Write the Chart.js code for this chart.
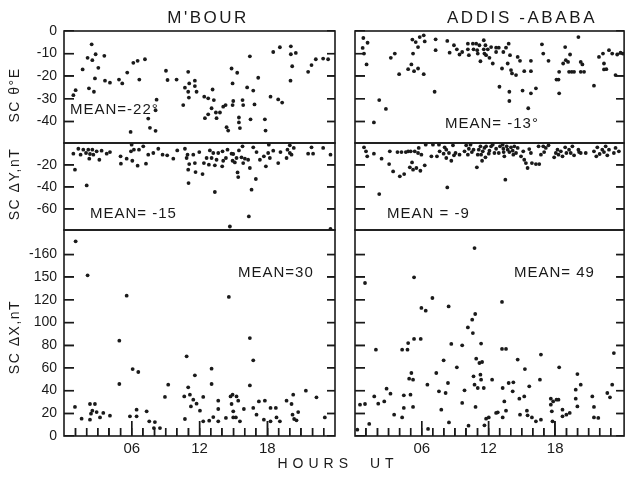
<!DOCTYPE html>
<html><head><meta charset="utf-8">
<script src="https://cdn.jsdelivr.net/npm/chart.js@4/dist/chart.umd.min.js"></script>
<style>
html,body{margin:0;padding:0;background:#fff;}
#wrap{position:relative;width:626px;height:477px;overflow:hidden;background:#fff;font-family:"Liberation Sans",Arial,sans-serif;color:#1a1a1a;}
canvas{position:absolute;left:0;top:0;}
.c{position:absolute;white-space:nowrap;line-height:1;transform:translate(-50%,-50%);}
.l{position:absolute;white-space:nowrap;line-height:1;transform:translate(0,-50%);}
.r{position:absolute;white-space:nowrap;line-height:1;transform:translate(-50%,-50%) rotate(-90deg);}
#st{display:none;}
</style></head><body><div id="wrap">
<canvas id="c1" width="626" height="477"></canvas>
<canvas id="c2" width="626" height="477"></canvas>
<canvas id="c3" width="626" height="477"></canvas>
<canvas id="c4" width="626" height="477"></canvas>
<canvas id="c5" width="626" height="477"></canvas>
<canvas id="c6" width="626" height="477"></canvas>
<div class="c" style="left:208px;top:17px;font-size:17px;letter-spacing:2.5px;">M'BOUR</div>
<div class="c" style="left:522px;top:17px;font-size:17px;letter-spacing:2.6px;">ADDIS -ABABA</div>
<div class="r" style="left:14px;top:95px;font-size:14px;letter-spacing:1.5px;">SC θ°E</div>
<div class="r" style="left:14px;top:184px;font-size:14px;letter-spacing:1.5px;">SC ΔY,nT</div>
<div class="r" style="left:14px;top:337px;font-size:14px;letter-spacing:1.5px;">SC ΔX,nT</div>
<div class="l" style="left:70px;top:108px;font-size:15px;letter-spacing:1px;">MEAN=-22°</div>
<div class="l" style="left:445px;top:122px;font-size:15px;letter-spacing:1px;">MEAN= -13°</div>
<div class="l" style="left:90px;top:212px;font-size:15px;letter-spacing:1px;">MEAN= -15</div>
<div class="l" style="left:387px;top:212px;font-size:15px;letter-spacing:1px;">MEAN = -9</div>
<div class="l" style="left:238px;top:271px;font-size:15px;letter-spacing:1px;">MEAN=30</div>
<div class="l" style="left:514px;top:271px;font-size:15px;letter-spacing:1px;">MEAN= 49</div>
<div class="c" style="left:338px;top:463px;font-size:14px;letter-spacing:5px;word-spacing:8px;">HOURS UT</div>
<div id="st"></div>
</div>
<script>
const INK = '#1a1a1a';
const FONT = '"Liberation Sans", Arial, sans-serif';

// Tick values / labels
const thetaTicks = [0, -10, -20, -30, -40];
const thetaLabels = ['0', '-10', '-20', '-30', '-40'];
const dyTicks = [-20, -40, -60];
const dyLabels = ['-20', '-40', '-60'];
const dxTicks = [0, 20, 40, 60, 80, 100, 120, 140, 160];
const dxLabels = ['0', '20', '40', '60', '80', '100', '120', '150', '-160'];
const hourTicks = [6, 12, 18];
const hourLabels = ['06', '12', '18'];
const hourMarks = [1,2,3,4,5,6,7,8,9,10,11,12,13,14,15,16,17,18,19,20,21,22,23];

// [hour UT, value]
const mbourTheta = [[0.83,-28.4],[1.03,-26.2],[1.65,-17.0],[2.09,-11.9],[2.45,-5.9],[2.51,-12.9],[2.80,-10.3],[2.74,-21.0],[2.21,-25.4],[2.65,-26.9],[3.04,-16.3],[3.57,-11.0],[3.63,-22.0],[4.07,-22.9],[4.87,-21.5],[5.16,-23.2],[5.60,-18.4],[6.14,-14.1],[6.52,-13.2],[7.17,-12.5],[6.67,-21.5],[7.46,-38.8],[8.11,-35.1],[8.2,-30.4],[7.61,-42.9],[8.11,-44.2],[5.9,-44.7],[9.03,-17.6],[9.17,-21.7],[9.97,-21.5],[11.0,-18.1],[10.56,-32.8],[10.71,-25.1],[11.0,-26.9],[11.06,-29.5],[11.09,-23.2],[11.59,-24.4],[11.59,-22.0],[11.74,-26.9],[13.16,-25.9],[12.42,-29.1],[12.77,-29.8],[13.27,-30.6],[12.48,-38.6],[12.77,-36.9],[13.07,-34.2],[13.45,-36.1],[13.51,-38.6],[13.81,-36.1],[14.1,-33.5],[14.31,-32.8],[14.4,-42.6],[14.54,-44.1],[14.93,-32.8],[14.93,-23.2],[14.99,-31.0],[14.84,-16.6],[15.34,-18.5],[15.49,-38.3],[15.49,-40.5],[15.58,-43.0],[15.81,-30.6],[15.87,-32.8],[16.22,-25.0],[16.46,-11.2],[16.52,-39.1],[16.76,-26.4],[16.87,-32.5],[17.2,-20.7],[17.79,-39.1],[17.85,-44.1],[18.29,-29.1],[18.53,-9.3],[18.97,-30.3],[19.12,-7.2],[19.32,-31.7],[20.06,-22.0],[20.09,-6.8],[20.21,-15.6],[20.09,-10.3],[20.53,-9.7],[21.62,-18.1],[21.92,-15.1],[22.3,-12.5],[22.95,-12.2],[23.39,-12.5]];

const addisTheta = [[0.75,-3.1],[1.13,-5.2],[0.69,-7.5],[0.81,-10.0],[1.04,-14.8],[1.70,-40.5],[2.18,-30.6],[2.78,-34.5],[3.22,-11.9],[3.58,-10.0],[3.97,-19.1],[4.78,-16.9],[5.16,-3.8],[5.07,-14.8],[5.22,-10.0],[5.46,-4.9],[5.67,-7.1],[5.82,-2.7],[6.18,-1.9],[6.27,-4.6],[5.67,-16.6],[5.31,-17.8],[6.18,-19.1],[7.16,-26.9],[7.25,-3.7],[7.25,-8.5],[8.3,-4.4],[8.51,-9.6],[8.9,-6.3],[9.16,-8.1],[9.4,-10.4],[9.64,-9.3],[10.15,-5.6],[10.15,-8.1],[10.24,-10.7],[10.6,-5.6],[10.66,-8.1],[10.9,-5.6],[10.99,-8.5],[11.04,-10.0],[11.19,-6.3],[11.28,-13.4],[11.58,-4.1],[11.58,-8.1],[11.64,-10.0],[11.73,-6.3],[11.79,-10.7],[11.94,-8.1],[12.09,-11.9],[12.24,-7.1],[12.39,-14.4],[12.69,-9.3],[12.69,-7.4],[12.93,-7.4],[12.99,-24.7],[13.22,-16.6],[13.34,-9.3],[13.58,-7.4],[13.82,-5.6],[13.73,-14.4],[13.94,-10.7],[14.03,-17.3],[14.12,-18.8],[13.88,-26.9],[13.88,-31.0],[14.48,-19.5],[14.63,-11.5],[14.84,-13.2],[15.07,-26.4],[15.22,-17.8],[15.58,-34.2],[15.82,-17.8],[15.82,-13.2],[15.82,-27.6],[16.27,-25.4],[16.81,-5.9],[16.93,-10.0],[17.4,-13.2],[18.12,-21.5],[18.3,-21.5],[18.36,-18.1],[18.36,-27.6],[18.72,-14.4],[18.9,-7.1],[18.96,-12.9],[19.16,-13.7],[19.25,-18.1],[19.34,-10.4],[19.49,-18.1],[19.7,-18.1],[20.09,-2.7],[20.3,-13.7],[20.3,-18.1],[20.45,-14.8],[20.6,-18.1],[21.49,-24.2],[21.94,-11.5],[22.3,-10.0],[22.39,-14.4],[22.39,-17.0],[22.6,-16.9],[22.84,-8.5],[23.13,-10.0],[23.43,-19.5],[23.58,-10.4],[23.88,-9.6],[24.09,-10.0]];

const mbourDY = [[0.83,-9.7],[0.97,-24.2],[1.27,-5.2],[1.47,-10.6],[1.71,-6.1],[1.95,-9.1],[2.01,-38.5],[2.15,-6.1],[2.24,-14.2],[2.3,-10.0],[2.51,-6.1],[2.6,-10.6],[2.89,-7.6],[3.13,-15.2],[3.33,-7.0],[3.78,-9.7],[4.07,-8.2],[5.01,-12.1],[5.04,-18.8],[5.55,-14.2],[5.93,-7.6],[5.99,-1.5],[6.05,-16.1],[6.19,-6.1],[6.52,-20.6],[6.64,-6.1],[7.02,-3.0],[7.26,-18.8],[7.46,-10.6],[7.91,-9.1],[8.35,-5.2],[8.73,-10.6],[9.14,-11.2],[9.68,-14.2],[10.03,-6.7],[10.71,-5.2],[10.86,-13.6],[10.94,-10.6],[11.0,-24.2],[11.09,-19.1],[11.03,-36.4],[11.45,-10.6],[11.59,-18.2],[11.65,-26.4],[11.98,-8.2],[12.27,-28.2],[12.39,-18.2],[12.63,-13.6],[12.83,-19.7],[12.92,-6.7],[13.07,-13.6],[13.22,-9.1],[13.36,-20.3],[13.36,-44.5],[13.51,-15.2],[13.66,-9.1],[14.01,-21.2],[14.04,-7.6],[14.1,-16.1],[14.34,-13.6],[14.48,-6.1],[14.69,-75.8],[14.84,-9.7],[14.93,-16.1],[14.99,-10.0],[15.13,-17.6],[15.28,-13.6],[15.37,-26.7],[15.43,-30.9],[15.49,-6.7],[15.72,-13.0],[15.81,-3.0],[15.87,-18.2],[16.02,-14.2],[16.31,-15.2],[16.37,-66.7],[16.46,-22.7],[16.61,-42.4],[16.76,-3.9],[16.99,-32.7],[17.05,-8.2],[17.35,-15.2],[17.7,-12.1],[17.88,-21.2],[18.08,-9.1],[18.14,-1.5],[18.23,-13.6],[18.53,-7.0],[18.97,-18.2],[19.17,-8.2],[19.71,-13.6],[19.79,-6.1],[20.0,-2.1],[20.0,-9.1],[20.15,-10.6],[20.35,-4.5],[21.62,-9.7],[21.92,-3.9],[22.06,-9.7],[22.95,-4.5],[23.6,-10.6],[23.6,-78.0]];

const addisDY = [[0.81,-3.9],[0.99,-7.6],[1.10,-12.1],[1.70,-9.7],[2.18,-46.4],[2.39,-14.2],[3.07,-19.1],[3.13,-7.6],[3.43,-25.8],[3.82,-8.2],[4.03,-30.3],[4.18,-8.2],[4.42,-28.2],[4.57,-8.2],[4.78,-7.6],[4.93,-22.1],[5.01,-7.6],[5.13,-17.6],[5.22,-24.2],[5.37,-7.6],[5.52,-22.7],[5.67,-9.1],[5.73,-4.5],[5.88,-25.2],[5.97,-10.6],[6.27,-20.3],[6.36,-1.5],[6.87,-12.1],[7.01,-1.5],[7.37,-12.1],[7.55,-1.5],[7.61,-7.6],[7.97,-9.7],[8.06,-3.9],[8.21,-6.1],[8.21,-13.6],[8.3,-40.3],[8.45,-9.1],[8.66,-16.1],[8.81,-2.1],[8.9,-11.2],[9.04,-9.1],[9.4,-10.6],[9.85,-7.6],[10.0,-2.1],[10.15,-10.6],[10.24,-5.2],[10.39,-1.5],[10.51,-8.2],[10.66,-6.1],[10.96,-22.1],[11.04,-10.6],[11.13,-6.1],[11.28,-3.0],[11.34,-10.6],[11.43,-16.1],[11.49,-7.6],[11.64,-4.5],[11.73,-13.0],[11.79,-3.0],[12.03,-9.7],[12.09,-7.0],[12.24,-3.0],[12.39,-1.5],[12.54,-9.1],[12.69,-5.2],[12.93,-9.1],[13.04,-3.0],[13.28,-1.5],[13.34,-5.2],[13.37,-8.2],[13.43,-12.1],[13.52,-33.3],[13.64,-3.0],[13.73,-6.1],[13.88,-8.2],[14.03,-3.9],[14.18,-7.0],[14.24,-10.6],[14.33,-3.0],[14.48,-9.1],[14.63,-4.5],[14.93,-12.1],[15.13,-7.6],[15.22,-15.2],[15.37,-18.2],[15.52,-22.7],[15.67,-5.5],[15.82,-9.1],[15.91,-18.2],[16.27,-19.1],[16.51,-3.0],[16.57,-19.1],[16.72,-10.6],[16.93,-3.0],[17.01,-8.2],[17.16,-4.5],[17.4,-2.1],[17.91,-13.0],[18.06,-9.1],[18.21,-6.1],[18.3,-10.6],[18.51,-7.6],[18.66,-12.1],[18.9,-3.9],[19.01,-9.1],[19.25,-6.1],[19.4,-9.1],[19.55,-3.0],[19.7,-11.2],[20.09,-6.1],[20.15,-8.2],[20.3,-9.1],[20.75,-9.1],[21.49,-7.6],[21.7,-12.1],[21.79,-3.9],[22.0,-10.0],[22.24,-6.1],[22.39,-8.2],[22.54,-3.0],[22.69,-11.2],[22.84,-6.1],[23.28,-9.1],[23.43,-4.5],[23.73,-7.6]];

const mbourDX = [[1.03,171.5],[2.09,141.6],[5.55,123.6],[4.9,84.0],[4.9,45.8],[6.08,59.0],[6.58,56.4],[10.86,70.2],[11.59,53.5],[13.07,59.3],[13.07,45.8],[14.6,122.5],[16.46,86.3],[16.76,66.7],[16.46,44.6],[9.23,45.2],[11.0,42.9],[8.94,34.4],[10.65,34.9],[11.15,36.4],[11.45,32.0],[11.74,28.5],[12.33,34.4],[11.24,26.1],[12.04,22.3],[13.66,31.1],[13.66,23.8],[14.75,34.9],[14.93,36.4],[15.28,34.9],[15.43,31.1],[14.84,28.2],[14.99,21.7],[15.93,23.8],[14.99,16.4],[15.22,16.4],[14.34,15.9],[15.58,12.9],[13.22,16.7],[13.66,12.9],[16.76,24.7],[17.05,18.8],[17.26,30.5],[17.79,31.1],[18.29,24.7],[18.76,24.7],[18.82,16.4],[19.12,12.9],[18.29,12.9],[19.71,31.1],[20.15,28.2],[20.3,36.4],[20.24,18.8],[20.38,15.0],[20.59,13.8],[20.74,21.1],[21.42,39.9],[22.36,34.1],[23.1,16.4],[0.97,25.6],[1.56,15.3],[2.3,28.2],[2.74,28.2],[2.51,22.3],[2.39,19.7],[2.3,14.4],[2.89,21.1],[3.19,16.4],[3.48,20.3],[4.07,17.9],[5.84,17.3],[6.43,23.2],[6.43,17.3],[7.32,21.7],[7.55,12.9],[8.05,12.3],[7.96,7.0],[8.5,7.0],[10.71,15.0],[12.33,12.9],[12.86,13.5],[17.7,14.4]];

const addisDX = [[0.9,134.8],[0.45,27.6],[0.9,28.2],[1.73,34.9],[1.88,76.1],[2.09,28.5],[2.63,30.5],[2.84,41.7],[3.19,37.3],[3.52,18.8],[4.24,76.1],[4.72,76.1],[4.24,16.4],[4.39,24.7],[4.39,35.8],[4.78,81.9],[4.87,50.5],[4.99,36.4],[5.07,55.5],[5.22,49.6],[5.22,25.6],[5.31,139.8],[5.31,85.5],[5.91,85.5],[5.97,112.8],[6.36,110.4],[6.96,121.6],[6.51,45.2],[7.31,55.5],[7.55,39.4],[7.76,23.2],[7.97,66.7],[8.15,37.9],[8.36,46.7],[8.42,114.2],[8.66,81.1],[9.16,60.5],[9.64,79.9],[9.64,29.1],[9.85,40.2],[10.15,95.7],[10.54,102.5],[10.6,90.7],[10.75,165.6],[10.81,107.5],[10.66,52.6],[10.75,45.2],[10.84,25.6],[10.9,68.1],[11.04,42.3],[11.19,64.3],[11.28,54.0],[11.34,81.4],[11.34,49.6],[11.43,65.2],[11.58,42.3],[12.33,49.6],[11.79,15.3],[12.03,16.4],[12.69,20.3],[12.84,20.9],[13.22,118.1],[13.22,76.7],[13.28,42.3],[13.58,76.7],[13.43,30.5],[13.58,22.3],[13.28,16.4],[13.82,46.7],[14.18,39.4],[14.24,47.3],[14.63,67.3],[14.78,32.9],[14.84,18.8],[15.28,59.0],[15.22,34.9],[15.46,22.3],[15.52,18.2],[15.67,43.8],[15.91,16.4],[16.27,12.9],[16.72,71.7],[16.63,49.6],[16.72,14.4],[17.61,32.9],[17.61,27.6],[17.7,21.7],[17.76,12.9],[17.82,30.5],[18.12,32.0],[18.36,60.5],[18.3,32.0],[18.66,17.3],[19.01,18.8],[19.31,20.3],[18.66,23.2],[19.85,40.8],[19.85,32.9],[20.0,54.6],[20.0,26.1],[20.3,45.2],[21.34,34.9],[21.49,25.6],[21.49,16.4],[21.88,15.9],[22.69,37.9],[22.93,34.1],[23.28,73.1],[23.13,45.2],[0.21,5.6],[1.28,10.6],[6.57,6.2],[8.45,12.0],[10.21,9.1],[11.64,9.4]];

function seg(ctx, x1, y1, x2, y2) { ctx.beginPath(); ctx.moveTo(x1, y1); ctx.lineTo(x2, y2); ctx.stroke(); }

function framePlugin(yTicks, drawHours) {
  return { id: 'frame', afterDraw(chart) {
    const ctx = chart.ctx, a = chart.chartArea; const ys = chart.scales.y, xs = chart.scales.x;
    ctx.save(); ctx.strokeStyle = INK; ctx.lineWidth = 1.4;
    for (let i = 0; i < yTicks.length; i++) {
      const p = ys.getPixelForValue(yTicks[i]);
      if (!(p > a.top + 1 && p < a.bottom - 1)) continue;
      seg(ctx, a.left, p, a.left + 10, p); seg(ctx, a.right, p, a.right - 8, p);
    }
    if (drawHours) for (let i = 0; i < hourMarks.length; i++) { const h = hourMarks[i]; const p = xs.getPixelForValue(h); seg(ctx, p, a.bottom, p, a.bottom - ((h % 6 === 0) ? 15 : 8)); }
    ctx.lineWidth = 1.6; ctx.strokeRect(a.left, a.top, a.right - a.left, a.bottom - a.top);
    ctx.restore();
    document.getElementById('st').textContent += chart.canvas.id;
  } };
}

// inward tick marks drawn by the axes themselves (negative tick length)
function inTicks(len) {
  return { display: true, drawOnChartArea: false, drawTicks: true, tickLength: len, color: INK, lineWidth: 1.4 };
}

function makeChart(id, pts, o) {
  const left = o.col === 0; const colLeft = left ? 64 : 355; const colRight = left ? 335 : 625; const xmax = left ? 24 : 24.2;
  const showX = !!o.showX;
  return new Chart(document.getElementById(id), {
    type: 'scatter',
    data: { datasets: [{ data: pts.map(p => ({ x: p[0], y: p[1] })), pointRadius: 1.9, pointHoverRadius: 1.9, pointBackgroundColor: INK, pointBorderWidth: 0, showLine: false }] },
    options: { responsive: false, animation: false, events: [],
      layout: { padding: { left: left ? 0 : colLeft, right: 626 - colRight, top: o.top, bottom: showX ? 0 : 477 - o.bottom } },
      plugins: { legend: { display: false }, tooltip: { enabled: false } },
      scales: {
        x6: { type: 'linear', position: 'bottom', weight: 0, min: 0, max: xmax, display: showX,
          grid: inTicks(-15), border: { display: false }, ticks: { display: false },
          afterBuildTicks: s => { s.ticks = hourTicks.map(v => ({ value: v })); },
          afterFit: s => { s.height = 0; } },
        x: { type: 'linear', position: 'bottom', weight: 1, min: 0, max: xmax, display: showX,
          grid: inTicks(-8), border: { display: false },
          ticks: { padding: 12, autoSkip: false, maxRotation: 0, color: INK, font: { family: FONT, size: 15 }, callback: v => { const i = hourTicks.indexOf(v); return i < 0 ? '' : hourLabels[i]; } },
          afterBuildTicks: s => { s.ticks = hourMarks.map(v => ({ value: v })); },
          afterFit: s => { s.height = showX ? 477 - o.bottom : 0; } },
        y: { type: 'linear', position: 'left', min: o.ymin, max: o.ymax, display: true,
          grid: inTicks(-10), border: { display: false },
          ticks: { display: left, padding: 17, autoSkip: false, color: INK, font: { family: FONT, size: 14 }, callback: v => { const i = o.yTicks.indexOf(v); return i < 0 ? '' : o.yLabels[i]; } },
          afterBuildTicks: s => { s.ticks = o.yTicks.map(v => ({ value: v })); },
          afterFit: s => { s.width = left ? 64 : 0; } },
        yr: { type: 'linear', position: 'right', min: o.ymin, max: o.ymax, display: true,
          grid: inTicks(-8), border: { display: false }, ticks: { display: false },
          afterBuildTicks: s => { s.ticks = o.yTicks.map(v => ({ value: v })); },
          afterFit: s => { s.width = 0; } }
      } },
    plugins: [framePlugin(o.yTicks, showX)]
  });
}

makeChart('c1', mbourTheta, { col: 0, top: 31, bottom: 143, ymin: -49.6, ymax: 0, yTicks: thetaTicks, yLabels: thetaLabels });
makeChart('c2', addisTheta, { col: 1, top: 31, bottom: 143, ymin: -49.6, ymax: 0, yTicks: thetaTicks, yLabels: thetaLabels });
makeChart('c3', mbourDY, { col: 0, top: 143, bottom: 230, ymin: -79, ymax: 0, yTicks: dyTicks, yLabels: dyLabels });
makeChart('c4', addisDY, { col: 1, top: 143, bottom: 230, ymin: -79, ymax: 0, yTicks: dyTicks, yLabels: dyLabels });
makeChart('c5', mbourDX, { col: 0, top: 230, bottom: 436, ymin: 0, ymax: 181.5, yTicks: dxTicks, yLabels: dxLabels, showX: true });
makeChart('c6', addisDX, { col: 1, top: 230, bottom: 436, ymin: 0, ymax: 181.5, yTicks: dxTicks, yLabels: dxLabels, showX: true });
</script>
</body></html>
